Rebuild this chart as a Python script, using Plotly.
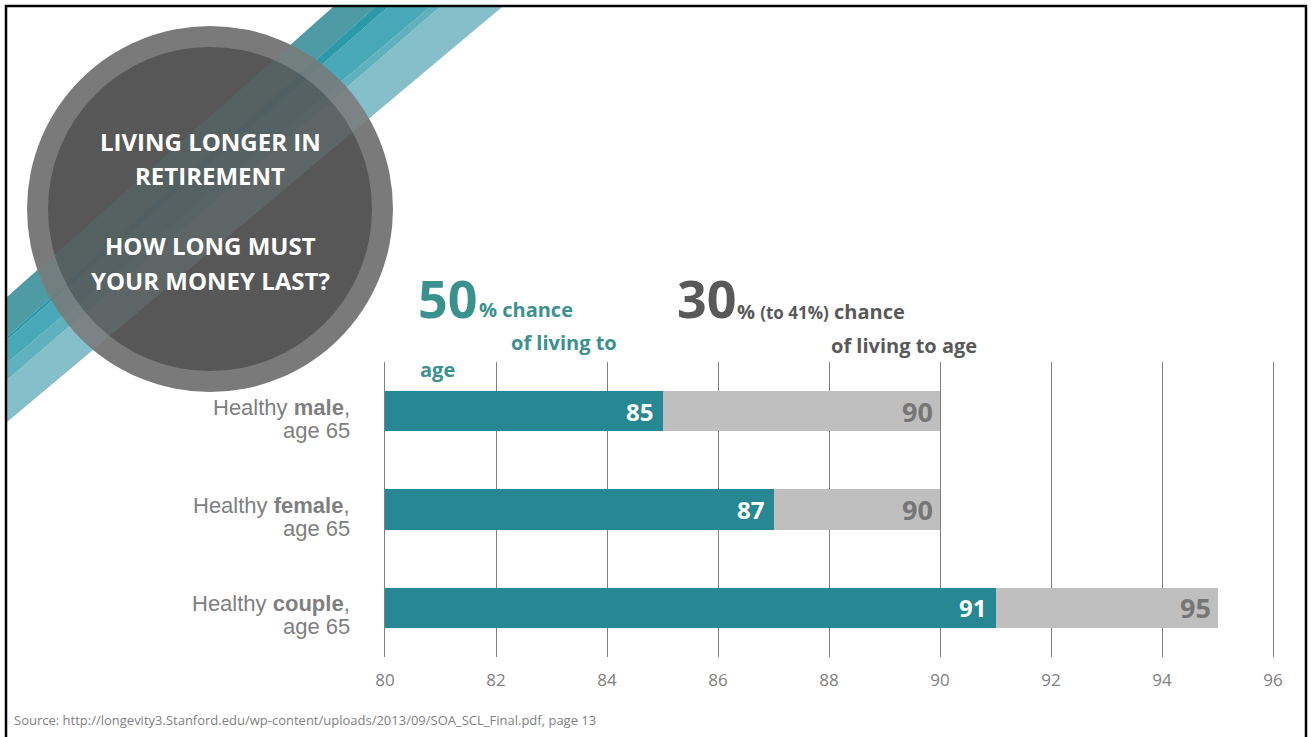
import plotly.graph_objects as go

# ---------------- data ----------------
group_keys = ["male", "female", "couple"]
group_labels = ["Healthy <b>male</b>,", "Healthy <b>female</b>,", "Healthy <b>couple</b>,"]
group_sub = ["age 65", "age 65", "age 65"]
age_50pct = [85, 87, 91]      # 50% chance of living to age
age_30pct = [90, 90, 95]      # 30% (to 41%) chance of living to age
axis_start = 80
x_ticks = [80, 82, 84, 86, 88, 90, 92, 94, 96]

title_lines = ["LIVING LONGER IN", "RETIREMENT", "HOW LONG MUST", "YOUR MONEY LAST?"]
source_text = "Source: http://longevity3.Stanford.edu/wp-content/uploads/2013/09/SOA_SCL_Final.pdf, page 13"

# ---------------- layout geometry ----------------
W, H = 1311, 737
L, R, T, B = 385, 38, 362, 80
PW, PH = W - L - R, H - T - B


def fx(px):
    return (px - L) / PW


def fy(py):
    return (H - B - py) / PH


TEAL = "#278793"
GRAY_BAR = "#BFBFBF"
TEAL_TXT = "#3A918D"
DARK_TXT = "#595959"
LABEL_GRAY = "#7F7F7F"
GRID = "#808080"

fig = go.Figure()

# gray bar (30% chance) drawn first, teal (50%) on top
fig.add_trace(go.Bar(
    y=group_keys, x=[v - axis_start for v in age_30pct], base=axis_start,
    orientation="h", marker=dict(color=GRAY_BAR, line=dict(width=0)),
    width=0.41, hoverinfo="skip"))
fig.add_trace(go.Bar(
    y=group_keys, x=[v - axis_start for v in age_50pct], base=axis_start,
    orientation="h", marker=dict(color=TEAL, line=dict(width=0)),
    width=0.41, hoverinfo="skip"))

ann = []
# value labels
for k, v in zip(group_keys, age_50pct):
    ann.append(dict(x=v, y=k, xref="x", yref="y", xanchor="right", yanchor="middle",
                    xshift=-8, text=str(v), showarrow=False,
                    font=dict(family="Open Sans", size=24, color="white", weight="bold")))
for k, v in zip(group_keys, age_30pct):
    ann.append(dict(x=v, y=k, xref="x", yref="y", xanchor="right", yanchor="middle",
                    xshift=-5, text=str(v), showarrow=False,
                    font=dict(family="Open Sans", size=27, color="#767676", weight="bold")))

# category labels
for k, lab, sub in zip(group_keys, group_labels, group_sub):
    ann.append(dict(x=fx(352), y=k, xref="paper", yref="y", xanchor="right", yanchor="middle",
                    yshift=4, text=lab, showarrow=False,
                    font=dict(family="Liberation Sans", size=22, color=LABEL_GRAY)))
    ann.append(dict(x=fx(352), y=k, xref="paper", yref="y", xanchor="right", yanchor="middle",
                    yshift=-19, text=sub, showarrow=False,
                    font=dict(family="Liberation Sans", size=22, color=LABEL_GRAY)))

# circle title
title_y = [141, 175, 245, 280]
for line, py in zip(title_lines, title_y):
    ann.append(dict(x=fx(210), y=fy(py), xref="paper", yref="paper", xanchor="center",
                    yanchor="middle", text=line, showarrow=False,
                    font=dict(family="Open Sans", size=24, color="white", weight="bold")))


# headers
def hdr(text, px, py, size, color, anchor="left"):
    ann.append(dict(x=fx(px), y=fy(py), xref="paper", yref="paper", xanchor=anchor,
                    yanchor="middle", text=text, showarrow=False,
                    font=dict(family="Open Sans", size=size, color=color, weight="bold")))


hdr("50", 416, 297, 52, TEAL_TXT)
hdr("% chance", 477, 309, 20, TEAL_TXT)
hdr("of living to", 564, 342, 20, TEAL_TXT, "center")
hdr("age", 418, 369, 20, TEAL_TXT)
hdr("30", 675, 297, 52, DARK_TXT)
hdr("% <span style='font-size:17px'>(to 41%)</span> chance", 735, 311, 20, DARK_TXT)
hdr("of living to age", 829, 345, 20, DARK_TXT)

ann.append(dict(x=fx(12), y=fy(720), xref="paper", yref="paper", xanchor="left",
                yanchor="middle", text=source_text, showarrow=False,
                font=dict(family="Open Sans", size=13, color=LABEL_GRAY)))

# ---------------- decorative shapes ----------------
shapes = []
band_top = [333, 375, 388, 430, 440, 502]     # x where band edges meet top frame (y=7)
band_left = [297, 337, 340, 363, 380, 422]    # y where band edges meet left frame (x=7)
band_cols = ["#4F9AA6", "#2B9AA9", "#4AA8B8", "#60B1BF", "#84BFCA"]


def band_path(i):
    return ("M {:.5f} {:.5f} L {:.5f} {:.5f} L {:.5f} {:.5f} L {:.5f} {:.5f} Z".format(
        fx(band_top[i]), fy(7), fx(band_top[i + 1]), fy(7),
        fx(7), fy(band_left[i + 1]), fx(7), fy(band_left[i])))


for i, c in enumerate(band_cols):
    shapes.append(dict(type="path", path=band_path(i), xref="paper", yref="paper",
                       fillcolor=c, line=dict(width=0), layer="above"))

cx, cy = 210, 209
shapes.append(dict(type="circle", xref="paper", yref="paper",
                   x0=fx(cx - 183), x1=fx(cx + 183), y0=fy(cy + 183), y1=fy(cy - 183),
                   fillcolor="#7A7A7A", line=dict(width=0), layer="above"))
shapes.append(dict(type="circle", xref="paper", yref="paper",
                   x0=fx(cx - 162), x1=fx(cx + 162), y0=fy(cy + 162), y1=fy(cy - 162),
                   fillcolor="#575757", line=dict(width=0), layer="above"))
# faint tint of the stripes seen through the circle
for i, c in enumerate(band_cols):
    shapes.append(dict(type="path", path=band_path(i), xref="paper", yref="paper",
                       fillcolor=c, opacity=0.14, line=dict(width=0), layer="above"))

# frame
shapes.append(dict(type="path", xref="paper", yref="paper",
                   path="M {:.5f} {:.5f} L {:.5f} {:.5f} L {:.5f} {:.5f} L {:.5f} {:.5f}".format(
                       fx(6), fy(760), fx(6), fy(6), fx(1306), fy(6), fx(1306), fy(760)),
                   line=dict(color="black", width=2.5), layer="above"))

fig.update_layout(
    width=W, height=H,
    margin=dict(l=L, r=R, t=T, b=B),
    paper_bgcolor="white", plot_bgcolor="white",
    barmode="overlay", showlegend=False, bargap=0,
    annotations=ann, shapes=shapes,
    xaxis=dict(range=[80, 96], tickvals=x_ticks, showgrid=True, gridcolor=GRID,
               gridwidth=1, zeroline=False, showline=False, ticks="",
               ticklabelstandoff=11,
               tickfont=dict(family="Open Sans", size=17, color=LABEL_GRAY)),
    yaxis=dict(categoryorder="array", categoryarray=group_keys, range=[2.5, -0.5],
               showticklabels=False, showgrid=False, zeroline=False,
               showline=True, mirror=True, linecolor=GRID, linewidth=1),
)

fig.write_html("out.html", config={"displayModeBar": False},
               post_script="document.body.style.margin='0';document.body.style.padding='0';")
